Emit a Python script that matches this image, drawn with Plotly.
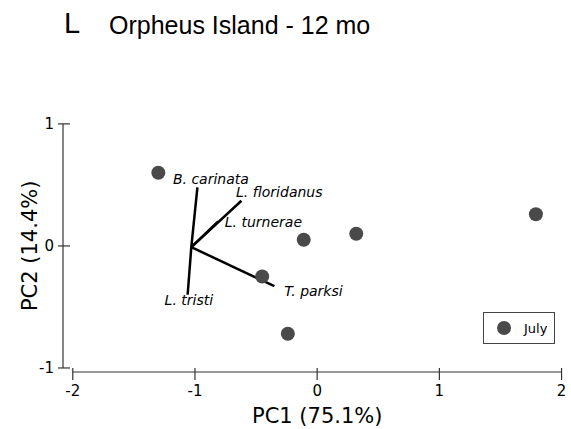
import plotly.graph_objects as go

# ---- data ----
pc1 = [-1.30, -0.11, 0.32, 1.79, -0.45, -0.24]
pc2 = [0.60, 0.05, 0.10, 0.26, -0.25, -0.72]
group_name = "July"

species = ["B. carinata", "L. floridanus", "L. turnerae", "T. parksi", "L. tristi"]
vec_origin = [-1.03, -0.01]
vec_end_x = [-0.98, -0.62, -0.81, -0.35, -1.06]
vec_end_y = [0.48, 0.37, 0.20, -0.33, -0.40]
label_x = [-0.87, -0.31, -0.44, -0.03, -1.05]
label_y = [0.54, 0.43, 0.18, -0.38, -0.455]

x_ticks = [-2, -1, 0, 1, 2]
y_ticks = [-1, 0, 1]

title_letter = "L"
title_text = "Orpheus Island - 12 mo"
x_title = "PC1 (75.1%)"
y_title = "PC2 (14.4%)"

# ---- figure ----
W, H = 571, 429
ML, MR, MT, MB = 63, 5, 119, 57
PW, PH = W - ML - MR, H - MT - MB

def px_to_paper_y(py):
    return (H - MB - py) / PH

def px_to_paper_x(px):
    return (px - ML) / PW

fig = go.Figure()

# loading vectors
lx, ly = [], []
for ex, ey in zip(vec_end_x, vec_end_y):
    lx += [vec_origin[0], ex, None]
    ly += [vec_origin[1], ey, None]
fig.add_trace(go.Scatter(x=lx, y=ly, mode="lines",
                         line=dict(color="black", width=2.5),
                         showlegend=False, hoverinfo="skip"))

# vector labels
fig.add_trace(go.Scatter(x=label_x, y=label_y, mode="text", text=species,
                         textposition="middle center",
                         textfont=dict(family="DejaVu Sans", size=14, color="black", style="italic"),
                         showlegend=False, hoverinfo="skip"))

# sample points
fig.add_trace(go.Scatter(x=pc1, y=pc2, mode="markers", name=group_name,
                         marker=dict(color="#4a4a4a", size=14, line=dict(width=0))))

shapes = []
axis_col = "#333333"
# x axis line spanning first to last tick
shapes.append(dict(type="line", xref="x", yref="paper", x0=x_ticks[0], x1=x_ticks[-1],
                   y0=0, y1=0, line=dict(color=axis_col, width=1.2)))
for t in x_ticks:
    shapes.append(dict(type="line", xref="x", yref="paper", ysizemode="pixel", yanchor=0,
                       x0=t, x1=t, y0=-8, y1=4, line=dict(color=axis_col, width=1.2)))
# y axis line
shapes.append(dict(type="line", xref="paper", yref="y", x0=0, x1=0,
                   y0=y_ticks[0], y1=y_ticks[-1], line=dict(color=axis_col, width=1.2)))
for t in y_ticks:
    shapes.append(dict(type="line", xref="paper", yref="y", xsizemode="pixel", xanchor=0,
                       x0=-5, x1=7, y0=t, y1=t, line=dict(color=axis_col, width=1.2)))

annotations = [
    dict(text=title_letter, xref="paper", yref="paper", x=px_to_paper_x(62), y=px_to_paper_y(23),
         xanchor="left", yanchor="middle", showarrow=False,
         font=dict(family="Liberation Sans", size=29, color="black")),
    dict(text=title_text, xref="paper", yref="paper", x=px_to_paper_x(107), y=px_to_paper_y(25),
         xanchor="left", yanchor="middle", showarrow=False,
         font=dict(family="Liberation Sans", size=25, color="black")),
    dict(text=x_title, xref="x", yref="paper", x=0, y=px_to_paper_y(416),
         xanchor="center", yanchor="middle", showarrow=False,
         font=dict(family="DejaVu Sans", size=21, color="black")),
    dict(text=y_title, xref="paper", yref="y", x=px_to_paper_x(30), y=0, textangle=-90,
         xanchor="center", yanchor="middle", showarrow=False,
         font=dict(family="DejaVu Sans", size=21, color="black")),
]

fig.update_layout(
    width=W, height=H,
    margin=dict(l=ML, r=MR, t=MT, b=MB, pad=0),
    paper_bgcolor="white", plot_bgcolor="white",
    shapes=shapes, annotations=annotations,
    xaxis=dict(range=[-2.08, 2.02], tickvals=x_ticks, ticktext=[str(v) for v in x_ticks],
               showgrid=False, zeroline=False, showline=False,
               ticks="outside", ticklen=5, tickcolor="rgba(0,0,0,0)",
               tickfont=dict(family="DejaVu Sans", size=15, color="black")),
    yaxis=dict(range=[-1.033, 1.04], tickvals=y_ticks, ticktext=[str(v) for v in y_ticks],
               showgrid=False, zeroline=False, showline=False,
               ticks="outside", ticklen=5, tickcolor="rgba(0,0,0,0)",
               tickfont=dict(family="DejaVu Sans", size=15, color="black")),
    legend=dict(x=px_to_paper_x(557), y=px_to_paper_y(312), xanchor="right", yanchor="top",
                bordercolor="#444444", borderwidth=1, bgcolor="white",
                font=dict(family="DejaVu Sans", size=13, color="black"),
                itemwidth=30, tracegroupgap=0),
    showlegend=True,
)

fig.write_html("out.html")
